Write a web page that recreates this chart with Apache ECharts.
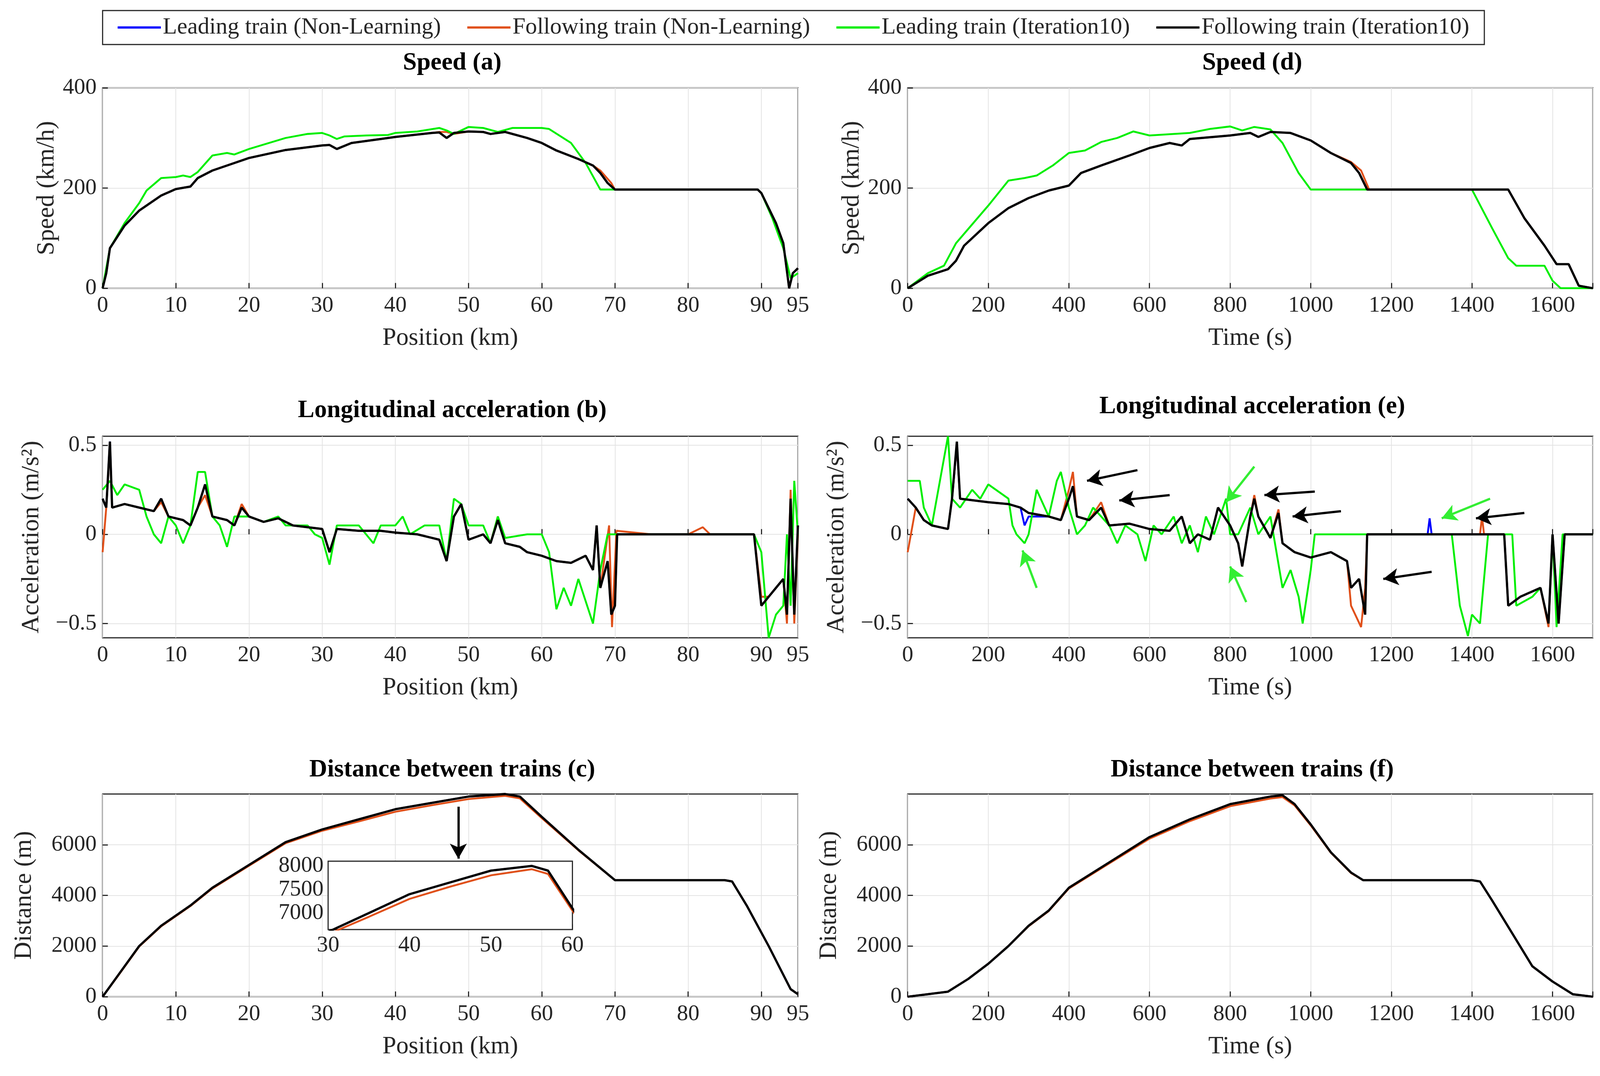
<!DOCTYPE html>
<html><head><meta charset="utf-8">
<script src="https://cdn.jsdelivr.net/npm/echarts@6/dist/echarts.min.js"></script>
<style>html,body{margin:0;padding:0;background:#fff;overflow:hidden}#c{width:100vw;height:100vh}</style>
</head><body><div id="c"></div>
<script>
const names=['Leading train (Non-Learning)','Following train (Non-Learning)','Leading train (Iteration10)','Following train (Iteration10)'];
const colors=['#0000ff','#e0501a','#00ee00','#000000'];
const posTicks=[0,10,20,30,40,50,60,70,80,90,95];
const timeTicks=[0,200,400,600,800,1000,1200,1400,1600];

// Speed vs position
const spPosGreen=[[0,0],[1,80],[3,130],[5,170],[6,195],[8,220],[10,222],[11,225],[12,222],[13,232],[15,265],[17,270],[18,267],[20,278],[25,300],[28,308],[30,310],[31,305],[32,298],[33,303],[36,305],[39,306],[40,310],[43,313],[46,320],[47,315],[48,308],[50,322],[52,320],[54,312],[56,320],[60,320],[61,318],[64,290],[66,250],[68,197],[70,197],[80,197],[89.5,197],[90,190],[91.5,140],[93,80],[94,20],[94.5,25],[95,30]];
const spPosBlack=[[0,0],[0.5,30],[1,80],[3,125],[5,155],[8,185],[10,198],[12,203],[13,220],[15,235],[18,250],[20,260],[25,276],[30,285],[31,286],[32,278],[34,290],[38,298],[40,302],[45,310],[46,311],[47,300],[48,310],[50,313],[52,312],[53,308],[55,312],[58,300],[60,290],[62,275],[65,258],[67,245],[68,230],[69,210],[70,197],[80,197],[89.5,197],[90,190],[92,130],[93,90],[93.8,0],[94.3,30],[95,40]];
const spPosOrange=[[0,0],[0.5,30],[1,80],[3,125],[5,155],[8,185],[10,198],[12,203],[13,220],[15,235],[18,250],[20,260],[25,276],[30,285],[31,286],[32,278],[34,290],[38,298],[40,302],[45,310],[46,312],[47,312],[48,308],[50,313],[52,312],[53,308],[55,312],[58,300],[60,290],[62,275],[65,258],[67,245],[68,235],[69.5,210],[70,197],[80,197],[89.5,197],[90,190],[92,130],[93,90],[93.8,0],[94.3,30],[95,40]];

// Speed vs time
const spTimeGreen=[[0,0],[50,30],[90,45],[120,90],[200,165],[250,215],[290,220],[320,225],[360,245],[400,270],[440,275],[480,292],[520,300],[560,313],[600,305],[700,310],[750,318],[800,323],[830,315],[860,322],[900,317],[930,290],[970,230],[1000,197],[1100,197],[1400,197],[1450,120],[1490,60],[1510,45],[1580,45],[1600,15],[1620,0],[1700,0]];
const spTimeBlack=[[0,0],[50,25],[100,38],[120,55],[140,85],[200,130],[250,160],[300,180],[350,195],[400,205],[430,230],[480,245],[550,265],[600,280],[650,290],[680,285],[700,298],[800,305],[850,310],[870,302],[900,312],[950,310],[1000,295],[1050,270],[1100,250],[1120,230],[1140,197],[1400,197],[1490,197],[1530,140],[1580,85],[1610,48],[1640,48],[1665,5],[1700,0]];
const spTimeOrange=[[0,0],[50,25],[100,38],[120,55],[140,85],[200,130],[250,160],[300,180],[350,195],[400,205],[430,230],[480,245],[550,265],[600,280],[650,290],[680,285],[700,298],[800,305],[850,310],[870,302],[900,312],[950,310],[1000,295],[1050,270],[1100,252],[1125,235],[1145,197],[1400,197],[1490,197],[1530,140],[1580,85],[1610,48],[1640,48],[1665,5],[1700,0]];

// Acceleration vs position
const acPosBlack=[[0,0.2],[0.5,0.15],[1,0.52],[1.3,0.15],[3,0.17],[5,0.15],[7,0.13],[8,0.2],[9,0.1],[11,0.08],[12,0.05],[13,0.15],[14,0.28],[15,0.1],[17,0.08],[18,0.05],[19,0.15],[20,0.1],[22,0.07],[24,0.09],[26,0.05],[28,0.04],[30,0.03],[31,-0.1],[32,0.03],[35,0.02],[38,0.02],[40,0.01],[43,0],[45,-0.02],[46,-0.03],[47,-0.15],[48,0.1],[49,0.17],[50,-0.03],[52,0],[53,-0.05],[54,0.08],[55,-0.05],[57,-0.07],[58,-0.1],[60,-0.12],[62,-0.15],[64,-0.16],[66,-0.12],[67,-0.2],[67.5,0.05],[68,-0.3],[69,-0.15],[69.5,-0.45],[70,-0.4],[70.3,0],[75,0],[80,0],[85,0],[89,0],[90,-0.4],[91,-0.35],[92,-0.3],[93,-0.25],[93.5,-0.45],[94,0.2],[94.5,-0.45],[95,0.05]];
const acPosGreen=[[0,0.25],[1,0.3],[2,0.22],[3,0.28],[5,0.25],[6,0.1],[7,0],[8,-0.05],[9,0.1],[10,0.05],[11,-0.05],[12,0.05],[13,0.35],[14,0.35],[15,0.1],[16,0.05],[17,-0.07],[18,0.1],[20,0.1],[22,0.07],[24,0.1],[25,0.05],[28,0.05],[29,0],[30,-0.02],[31,-0.17],[32,0.05],[35,0.05],[37,-0.05],[38,0.05],[40,0.05],[41,0.1],[42,0],[44,0.05],[46,0.05],[47,-0.15],[48,0.2],[49,0.17],[50,0.05],[52,0.05],[53,-0.05],[54,0.1],[55,-0.02],[58,0],[60,0],[61,-0.1],[62,-0.42],[63,-0.3],[64,-0.4],[65,-0.25],[67,-0.5],[68,-0.2],[69,0],[70,0],[80,0],[89,0],[90,-0.1],[91,-0.58],[92,-0.45],[93,-0.4],[93.5,0],[94,-0.4],[94.5,0.3],[95,0]];
const acPosOrange=[[0,-0.1],[0.5,0.15],[1,0.5],[1.3,0.15],[3,0.17],[5,0.15],[7,0.13],[8,0.18],[9,0.1],[11,0.08],[12,0.05],[13,0.15],[14,0.22],[15,0.1],[17,0.08],[18,0.05],[19,0.17],[20,0.1],[22,0.07],[24,0.09],[26,0.05],[28,0.04],[30,0.03],[31,-0.1],[32,0.03],[35,0.02],[38,0.02],[40,0.01],[43,0],[45,-0.02],[46,-0.03],[47,-0.15],[48,0.1],[49,0.17],[50,-0.03],[52,0],[53,-0.05],[54,0.1],[55,-0.05],[57,-0.07],[58,-0.1],[60,-0.12],[62,-0.15],[64,-0.16],[66,-0.12],[67,-0.2],[67.5,0.05],[68,-0.3],[69.2,0.05],[69.6,-0.52],[70.2,0.02],[75,0],[80,0],[82,0.04],[83,0],[85,0],[89,0],[90,-0.35],[91,-0.35],[92,-0.3],[93,-0.25],[93.5,-0.5],[94,0.25],[94.5,-0.5],[95,0]];

// Acceleration vs time
const acTimeBlack=[[0,0.2],[20,0.15],[40,0.08],[60,0.05],[100,0.03],[110,0.2],[122,0.52],[130,0.2],[200,0.18],[250,0.17],[280,0.15],[300,0.12],[350,0.1],[380,0.08],[400,0.2],[410,0.27],[420,0.1],[450,0.08],[480,0.15],[500,0.05],[550,0.06],[600,0.03],[650,0.02],[680,0.1],[700,-0.05],[720,0],[750,-0.03],[770,0.15],[800,0.05],[820,-0.05],[830,-0.18],[850,0.1],[860,0.2],[870,0.1],[900,-0.02],[920,0.12],[930,-0.05],[960,-0.1],[1000,-0.13],[1050,-0.1],[1090,-0.15],[1100,-0.3],[1120,-0.25],[1135,-0.45],[1140,0],[1200,0],[1300,0],[1420,0],[1480,0],[1490,-0.4],[1520,-0.35],[1570,-0.3],[1590,-0.5],[1600,0],[1615,-0.5],[1630,0],[1700,0]];
const acTimeGreen=[[0,0.3],[30,0.3],[40,0.15],[60,0.05],[80,0.3],[100,0.55],[110,0.2],[130,0.15],[160,0.25],[180,0.2],[200,0.28],[250,0.2],[260,0.05],[270,0],[290,-0.05],[300,0],[320,0.25],[350,0.1],[370,0.3],[380,0.35],[400,0.15],[420,0],[440,0.05],[460,0.15],[480,0.1],[500,0.05],[520,-0.05],[540,0.05],[570,0],[590,-0.15],[610,0.05],[630,0],[660,0.1],[680,-0.05],[700,0.05],[720,-0.1],[740,0.1],[760,0],[790,0.2],[800,0],[820,0],[840,0.1],[850,0.15],[870,0],[900,0.1],[930,-0.3],[950,-0.2],[970,-0.35],[980,-0.5],[1000,-0.2],[1010,0],[1100,0],[1200,0],[1300,0],[1350,0],[1370,-0.4],[1390,-0.57],[1400,-0.45],[1420,-0.5],[1440,0],[1500,0],[1510,-0.4],[1550,-0.35],[1570,-0.3],[1590,-0.5],[1600,0],[1610,-0.52],[1625,0],[1700,0]];
const acTimeOrange=[[0,-0.1],[20,0.15],[40,0.08],[60,0.05],[100,0.03],[110,0.2],[122,0.5],[130,0.2],[200,0.18],[250,0.17],[280,0.15],[300,0.12],[350,0.1],[380,0.08],[400,0.25],[410,0.35],[420,0.1],[450,0.08],[480,0.18],[500,0.05],[550,0.06],[600,0.03],[650,0.02],[680,0.1],[700,-0.05],[720,0],[750,-0.03],[770,0.15],[800,0.05],[820,-0.05],[830,-0.18],[850,0.1],[860,0.22],[870,0.1],[900,-0.02],[920,0.14],[930,-0.05],[960,-0.1],[1000,-0.13],[1050,-0.1],[1090,-0.15],[1100,-0.4],[1125,-0.52],[1135,-0.3],[1140,0],[1200,0],[1300,0],[1420,0],[1425,0.1],[1430,0],[1480,0],[1490,-0.4],[1520,-0.35],[1570,-0.3],[1590,-0.52],[1600,0],[1615,-0.5],[1630,0],[1700,0]];
const acTimeBlue=[[0,0.2],[20,0.15],[40,0.08],[60,0.05],[100,0.03],[110,0.2],[122,0.5],[130,0.2],[200,0.18],[250,0.17],[280,0.15],[290,0.05],[300,0.1],[350,0.1],[380,0.08],[400,0.2],[410,0.27],[420,0.1],[450,0.08],[480,0.15],[500,0.05],[550,0.06],[600,0.03],[650,0.02],[680,0.1],[700,-0.05],[720,0],[750,-0.03],[770,0.15],[800,0.05],[820,-0.05],[830,-0.18],[850,0.1],[860,0.2],[870,0.1],[900,-0.02],[920,0.12],[930,-0.05],[960,-0.1],[1000,-0.13],[1050,-0.1],[1090,-0.15],[1100,-0.3],[1120,-0.25],[1135,-0.45],[1140,0],[1290,0],[1295,0.09],[1300,0],[1480,0],[1490,-0.4],[1520,-0.35],[1570,-0.3],[1590,-0.5],[1600,0],[1615,-0.5],[1630,0],[1700,0]];

// Distance
const distPosBlack=[[0,0],[2,800],[5,2000],[8,2800],[10,3200],[12,3600],[15,4300],[20,5200],[25,6100],[30,6600],[35,7000],[40,7400],[45,7650],[50,7900],[55,8000],[57,7900],[60,7100],[65,5800],[70,4600],[85,4600],[86,4550],[88,3600],[91,2000],[94,300],[95,100]];
const distPosOrange=[[0,0],[2,780],[5,1980],[8,2780],[10,3180],[12,3580],[15,4270],[20,5170],[25,6060],[30,6550],[35,6920],[40,7300],[45,7560],[50,7800],[55,7930],[57,7830],[60,7050],[65,5780],[70,4600],[85,4600],[86,4550],[88,3600],[91,2000],[94,300],[95,100]];
const distTimeBlack=[[0,0],[100,200],[150,700],[200,1300],[250,2000],[300,2800],[350,3400],[400,4300],[500,5300],[600,6300],[700,7000],[800,7600],[900,7900],[930,7950],[960,7600],[1000,6800],[1050,5700],[1100,4900],[1130,4600],[1400,4600],[1420,4550],[1450,3800],[1500,2500],[1550,1200],[1600,600],[1650,100],[1700,0]];
const distTimeOrange=[[0,0],[100,200],[150,700],[200,1300],[250,2000],[300,2780],[350,3380],[400,4270],[500,5260],[600,6240],[700,6930],[800,7520],[900,7820],[930,7880],[960,7550],[1000,6760],[1050,5680],[1100,4880],[1130,4600],[1400,4600],[1420,4550],[1450,3800],[1500,2500],[1550,1200],[1600,600],[1650,100],[1700,0]];

const el=document.getElementById('c');
const W=el.clientWidth,H=el.clientHeight,S=W/4257,SY=H/2755;
const px=v=>v*S, py=v=>v*SY;
const FONT='Liberation Serif';
const L=[273,2123],R=[2415,4238];
const rows=[[225,738],[1117,1633],[2033,2552]];
function grid(c,r){return {left:px(c[0]),width:px(c[1]-c[0]),top:py(rows[r][0]),height:py(rows[r][1]-rows[r][0]),show:true,borderColor:'#262626',borderWidth:3*S,backgroundColor:'#fff'};}
const grids=[grid(L,0),grid(R,0),grid(L,1),grid(R,1),grid(L,2),grid(R,2),
 {left:px(873),width:px(650),top:py(2205),height:py(175),show:true,borderColor:'#262626',borderWidth:3*S,backgroundColor:'#fff',z:10}];
const lab={fontFamily:FONT,fontSize:60*S,color:'#262626',margin:16*S,hideOverlap:false,formatter:v=>String(v).replace('-','\u2212')};
const split={show:true,lineStyle:{color:'#e3e3e3',width:2*S}};
const tick={show:true,inside:true,length:14*S,lineStyle:{color:'#262626',width:3*S}};
const nameStyle={fontFamily:FONT,fontSize:66*S,color:'#262626'};
function xa(i,isTime,name){
  return {type:'value',gridIndex:i,min:0,max:isTime?1700:95,interval:isTime?200:10,
   axisLine:{show:false},axisTick:tick,
   axisLabel:Object.assign({},lab,{customValues:isTime?timeTicks:posTicks}),
   splitLine:split,name:name,nameLocation:'middle',nameGap:100*S,nameTextStyle:nameStyle};}
function ya(i,min,max,labels,name,gap){
  return {type:'value',gridIndex:i,min:min,max:max,axisLine:{show:false},
   axisTick:Object.assign({},tick,{customValues:labels}),
   axisLabel:Object.assign({},lab,{customValues:labels}),
   splitLine:split,splitNumber:2,name:name,nameLocation:'middle',nameGap:gap*S,nameTextStyle:nameStyle};}
const inLab=Object.assign({},lab,{fontSize:60*S,margin:12*S});
const xAxes=[xa(0,false,'Position (km)'),xa(1,true,'Time (s)'),xa(2,false,'Position (km)'),xa(3,true,'Time (s)'),xa(4,false,'Position (km)'),xa(5,true,'Time (s)'),
 {type:'value',gridIndex:6,min:30,max:60,interval:10,axisLine:{show:false},axisTick:tick,axisLabel:inLab,splitLine:{show:false}}];
const yAxes=[ya(0,0,400,[0,200,400],'Speed (km/h)',115),ya(1,0,400,[0,200,400],'Speed (km/h)',115),
 ya(2,-0.58,0.55,[-0.5,0,0.5],'Acceleration (m/s\u00b2)',155),ya(3,-0.58,0.55,[-0.5,0,0.5],'Acceleration (m/s\u00b2)',155),
 ya(4,0,8000,[0,2000,4000,6000],'Distance (m)',175),ya(5,0,8000,[0,2000,4000,6000],'Distance (m)',175),
 {type:'value',gridIndex:6,min:6650,max:8100,axisLine:{show:false},axisTick:Object.assign({},tick,{customValues:[7000,7500,8000]}),axisLabel:Object.assign({},inLab,{customValues:[7000,7500,8000]}),splitLine:{show:false}}];
const series=[];
function add(i,dataArr){ // order: blue, orange, green, black
  dataArr.forEach((d,k)=>{ if(!d) return;
    series.push({type:'line',name:names[k],xAxisIndex:i,yAxisIndex:i,data:d,showSymbol:false,symbol:'none',
      lineStyle:{color:colors[k],width:(k===3?6:5)*S},itemStyle:{color:colors[k]},z:(i===6?20:2)+k,animation:false,clip:true});});}
add(0,[spPosBlack,spPosOrange,spPosGreen,spPosBlack]);
add(1,[spTimeBlack,spTimeOrange,spTimeGreen,spTimeBlack]);
add(2,[acPosBlack,acPosOrange,acPosGreen,acPosBlack]);
add(3,[acTimeBlue,acTimeOrange,acTimeGreen,acTimeBlack]);
add(4,[distPosBlack,distPosOrange,null,distPosBlack]);
add(5,[distTimeBlack,distTimeOrange,null,distTimeBlack]);
add(6,[distPosBlack,distPosOrange,null,distPosBlack]);
function arrows(i,color,list){
  series.push({type:'line',xAxisIndex:i,yAxisIndex:i,data:[],silent:true,
   markLine:{silent:true,animation:false,symbol:['none','arrow'],symbolSize:[34*S,40*S],label:{show:false},
    lineStyle:{color:color,width:6*S,type:'solid'},data:list.map(a=>[{coord:[a[0],a[1]]},{coord:[a[2],a[3]]}])},z:30});}
arrows(3,'#000',[[570,0.36,445,0.3],[650,0.22,525,0.19],[1010,0.24,885,0.22],[1075,0.13,955,0.1],[1530,0.12,1410,0.09],[1300,-0.21,1180,-0.25]]);
arrows(3,'#33ee33',[[320,-0.3,285,-0.09],[860,0.38,790,0.18],[840,-0.38,800,-0.18],[1445,0.2,1325,0.09]]);
arrows(4,'#000',[[48.6,7500,48.6,5450]]);
const tstyle={fontFamily:FONT,fontSize:66*S,fontWeight:'bold',color:'#000'};
function title(text,c,top){return {text:text,left:px((c[0]+c[1])/2),top:py(top),textAlign:'center',textStyle:tstyle};}
const chart=echarts.init(el);
chart.setOption({animation:false,backgroundColor:'#fff',
 title:[title('Speed (a)',L,125),title('Speed (d)',R,125),title('Longitudinal acceleration (b)',L,1015),title('Longitudinal acceleration (e)',R,1005),title('Distance between trains (c)',L,1935),title('Distance between trains (f)',R,1935)],
 legend:{data:names,left:px(273),top:py(27),width:px(3758),itemWidth:115*S,itemHeight:6*S,itemGap:70*S,padding:[14*S,40*S],
   borderColor:'#262626',borderWidth:3*S,textStyle:{fontFamily:FONT,fontSize:62*S,color:'#262626'},icon:'rect'},
 grid:grids,xAxis:xAxes,yAxis:yAxes,series:series});
</script></body></html>
